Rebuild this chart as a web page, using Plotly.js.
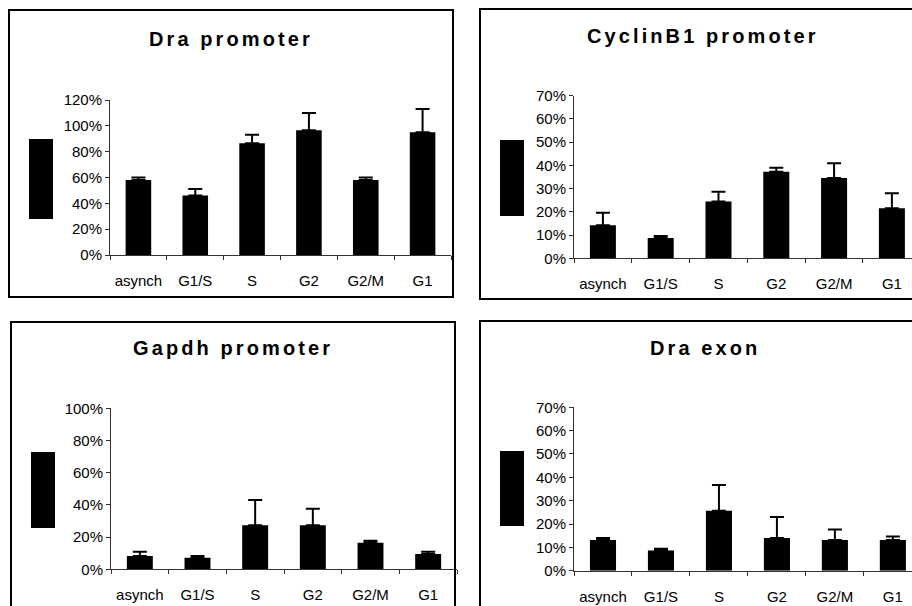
<!DOCTYPE html>
<html><head><meta charset="utf-8">
<script src="https://cdn.plot.ly/plotly-3.0.1.min.js"></script>
<style>
html,body{margin:0;padding:0;background:#fff}
#chart{width:912px;height:606px}
.annotation-text{letter-spacing:3.1px}
</style>
</head><body><div id="chart"></div><script>
const categories = ['asynch', 'G1/S', 'S', 'G2', 'G2/M', 'G1'];
const draPromoter = [58, 46, 86.5, 96.5, 58, 95];
const draPromoterErr = [2, 5, 6.5, 13.5, 2, 18];
const cyclinB1Promoter = [14.2, 8.7, 24.5, 37.3, 34.6, 21.5];
const cyclinB1PromoterErr = [5.4, 0.9, 4.2, 1.7, 6.3, 6.5];
const gapdhPromoter = [8.3, 7.2, 27.3, 27.3, 16.5, 9.5];
const gapdhPromoterErr = [2.6, 1.1, 15.7, 10.3, 1.3, 1.4];
const draExon = [13.1, 8.7, 25.7, 14.0, 13.1, 13.1];
const draExonErr = [0.9, 0.7, 11.0, 9.0, 4.5, 1.6];
const titles = ['Dra promoter', 'CyclinB1 promoter', 'Gapdh promoter', 'Dra exon'];

const W = 912, H = 606;
const px = x => x / W;
const py = y => 1 - y / H;
const FONT = '"Liberation Sans", Arial, sans-serif';

function barTrace(vals, errs, n) {
  return {
    type: 'bar', x: categories, y: vals,
    xaxis: 'x' + (n === 1 ? '' : n), yaxis: 'y' + (n === 1 ? '' : n),
    width: 0.45,
    marker: {color: '#000', line: {width: 0}},
    error_y: {type: 'data', array: errs, symmetric: false, arrayminus: errs.map(() => 0),
              color: '#000', thickness: 2, width: 7},
    showlegend: false, hoverinfo: 'none'
  };
}

const data = [
  barTrace(draPromoter, draPromoterErr, 1),
  barTrace(cyclinB1Promoter, cyclinB1PromoterErr, 2),
  barTrace(gapdhPromoter, gapdhPromoterErr, 3),
  barTrace(draExon, draExonErr, 4)
];

function xAx(x0, x1, rEnd, yAnchor) {
  return {
    domain: [px(x0), Math.min(1, px(x1))], anchor: yAnchor, type: 'category',
    range: [-0.5, rEnd], tickson: 'boundaries', ticks: 'outside', ticklen: 4,
    tickwidth: 1, tickcolor: '#333', showline: true, linecolor: '#333', linewidth: 1,
    showgrid: false, zeroline: false, fixedrange: true, ticklabelstandoff: 12,
    tickfont: {family: FONT, size: 15, color: '#000'}
  };
}
function yAx(y0, y1, top, dt, xAnchor) {
  return {
    domain: [py(y0), py(y1)], anchor: xAnchor, range: [0, top], dtick: dt, tick0: 0,
    ticksuffix: '%', ticks: 'outside', ticklen: 4, tickwidth: 1, tickcolor: '#333',
    showline: true, linecolor: '#333', linewidth: 1, showgrid: false, zeroline: false,
    fixedrange: true, tickfont: {family: FONT, size: 15, color: '#000'}
  };
}

const boxes = [[9, 10, 453, 297], [480, 9, 916, 299], [11, 322, 455, 612], [480, 321, 916, 612]];
const blocks = [[29, 139, 53, 219], [500, 140, 524, 216], [31, 452, 55, 528], [500, 451, 524, 526]];
const shapes = [];
boxes.forEach(b => shapes.push({type: 'rect', xref: 'paper', yref: 'paper',
  x0: px(b[0]), x1: px(b[2]), y0: py(b[3]), y1: py(b[1]),
  line: {color: '#000', width: 2}, fillcolor: 'rgba(0,0,0,0)', layer: 'above'}));
blocks.forEach(b => shapes.push({type: 'rect', xref: 'paper', yref: 'paper',
  x0: px(b[0]), x1: px(b[2]), y0: py(b[3]), y1: py(b[1]),
  line: {width: 0}, fillcolor: '#000'}));

const titlePos = [[231, 39], [703, 36], [233, 348], [705, 348]];
const annotations = titles.map((t, i) => ({
  text: '<b>' + t + '</b>', xref: 'paper', yref: 'paper',
  x: px(titlePos[i][0]), y: py(titlePos[i][1]), xanchor: 'center', yanchor: 'middle',
  showarrow: false, font: {family: FONT, size: 20, color: '#000'}
}));

const layout = {
  width: W, height: H, margin: {l: 0, r: 0, t: 0, b: 0},
  paper_bgcolor: '#fff', plot_bgcolor: 'rgba(0,0,0,0)', showlegend: false,
  xaxis: xAx(110, 451, 5.5, 'y'),
  yaxis: yAx(255, 100, 120, 20, 'x'),
  xaxis2: xAx(574, 912, 5.348, 'y2'),
  yaxis2: yAx(258.3, 95.7, 70, 10, 'x2'),
  xaxis3: xAx(111, 457, 5.5, 'y3'),
  yaxis3: yAx(569.3, 408.3, 100, 20, 'x3'),
  xaxis4: xAx(574, 912, 5.33, 'y4'),
  yaxis4: yAx(570.7, 407.3, 70, 10, 'x4'),
  shapes: shapes, annotations: annotations
};

Plotly.newPlot('chart', data, layout, {displayModeBar: false, staticPlot: true});
</script></body></html>
